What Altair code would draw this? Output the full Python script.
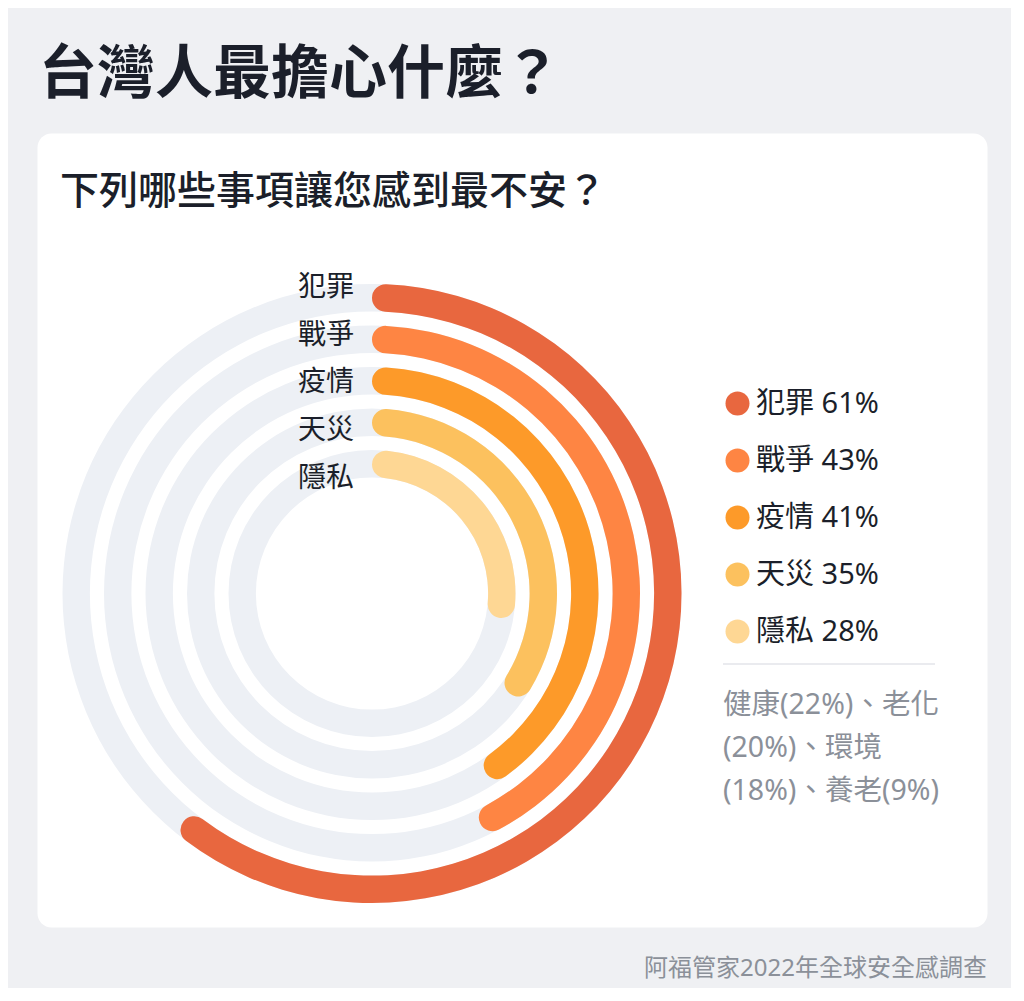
import altair as alt
import pandas as pd

FONT = "'Noto Sans', 'Noto Sans CJK TC', sans-serif"
INK = "#1b1f2a"
MUTED = "#8b9099"
BG = "#eff0f3"
TRACK = "#edf0f5"

TITLE = "台灣人最擔心什麼？"
SUBTITLE = "下列哪些事項讓您感到最不安？"
SOURCE = "阿福管家2022年全球安全感調查"

# main five answers, outermost ring first
categories = ["犯罪", "戰爭", "疫情", "天災", "隱私"]
percents = [61, 43, 41, 35, 28]
colors = ["#e8673f", "#fe8543", "#fd9a29", "#fcc15e", "#fed794"]

# the smaller answers, listed under the legend
other_lines = ["健康(22%)、老化", "(20%)、環境", "(18%)、養老(9%)"]

n = len(categories)
df = pd.DataFrame({
    "cat": categories,
    "pct": percents,
    "label": [f"{c} {p}%" for c, p in zip(categories, percents)],
    "ring": [n - i for i in range(n)],
})
df["inner"] = df["ring"] - 0.66
df["start"] = 0
df["full"] = 100

CX, CY = 335, 460.5   # ring centre, in card coordinates

theta_scale = alt.Scale(domain=[0, 100])
radius_scale = alt.Scale(domain=[0, n], range=[102, 309.5], zero=False)

base = alt.Chart(df)

track = base.mark_arc(color=TRACK).encode(
    x=alt.value(CX),
    y=alt.value(CY),
    theta=alt.Theta("start:Q", scale=theta_scale, stack=False),
    theta2="full:Q",
    radius=alt.Radius("ring:Q", scale=radius_scale),
    radius2="inner:Q",
)

bars = base.mark_arc(cornerRadius=13.75).encode(
    x=alt.value(CX),
    y=alt.value(CY),
    theta=alt.Theta("start:Q", scale=theta_scale, stack=False),
    theta2="pct:Q",
    radius=alt.Radius("ring:Q", scale=radius_scale),
    radius2="inner:Q",
    color=alt.Color(
        "label:N",
        scale=alt.Scale(domain=list(df["label"]), range=colors),
        legend=alt.Legend(
            title=None, orient="none", legendX=686, legendY=256,
            symbolType="circle", symbolSize=576, symbolStrokeWidth=0,
            labelFont=FONT, labelFontSize=29, labelColor=INK, labelOffset=4,
            rowPadding=27, padding=0,
        ),
    ),
)

ring_labels = base.mark_text(
    font=FONT, fontSize=28, color=INK, align="right", baseline="middle"
).encode(
    x=alt.value(317),
    y=alt.Y("cat:N", axis=None,
            scale=alt.Scale(type="point", domain=categories, range=[155, 345.5], padding=0)),
    text="cat:N",
)

subtitle = alt.Chart(pd.DataFrame({"t": [SUBTITLE]})).mark_text(
    font=FONT, fontSize=39, fontWeight=500, color=INK, align="left", baseline="alphabetic"
).encode(x=alt.value(23), y=alt.value(71), text="t:N")

divider = alt.Chart(pd.DataFrame({"t": [0]})).mark_rule(
    color="#e3e5ea", strokeWidth=1.5
).encode(x=alt.value(686), x2=alt.value(898), y=alt.value(531))

others = alt.Chart(pd.DataFrame({"t": ["\n".join(other_lines)]})).mark_text(
    font=FONT, fontSize=28.5, color=MUTED, align="left", baseline="alphabetic",
    lineBreak="\n", lineHeight=43,
).encode(x=alt.value(686), y=alt.value(581), text="t:N")

source = alt.Chart(pd.DataFrame({"t": [SOURCE]})).mark_text(
    font=FONT, fontSize=24, color=MUTED, align="right", baseline="alphabetic"
).encode(x=alt.value(950), y=alt.value(843), text="t:N")

chart = (
    alt.layer(track, bars, ring_labels, subtitle, divider, others, source)
    .properties(
        width=950, height=794, background=BG,
        padding={"left": 29, "top": 125, "right": 24, "bottom": 61},
        autosize=alt.AutoSizeParams(type="none"),
        title=alt.Title(TITLE, anchor="start", frame="group", offset=28, dx=2,
                        font=FONT, fontSize=58, fontWeight="bold", color=INK),
    )
    .configure_view(fill="white", stroke="transparent", cornerRadius=14)
)

chart.save("out.html", embed_options={"renderer": "svg", "actions": False})
